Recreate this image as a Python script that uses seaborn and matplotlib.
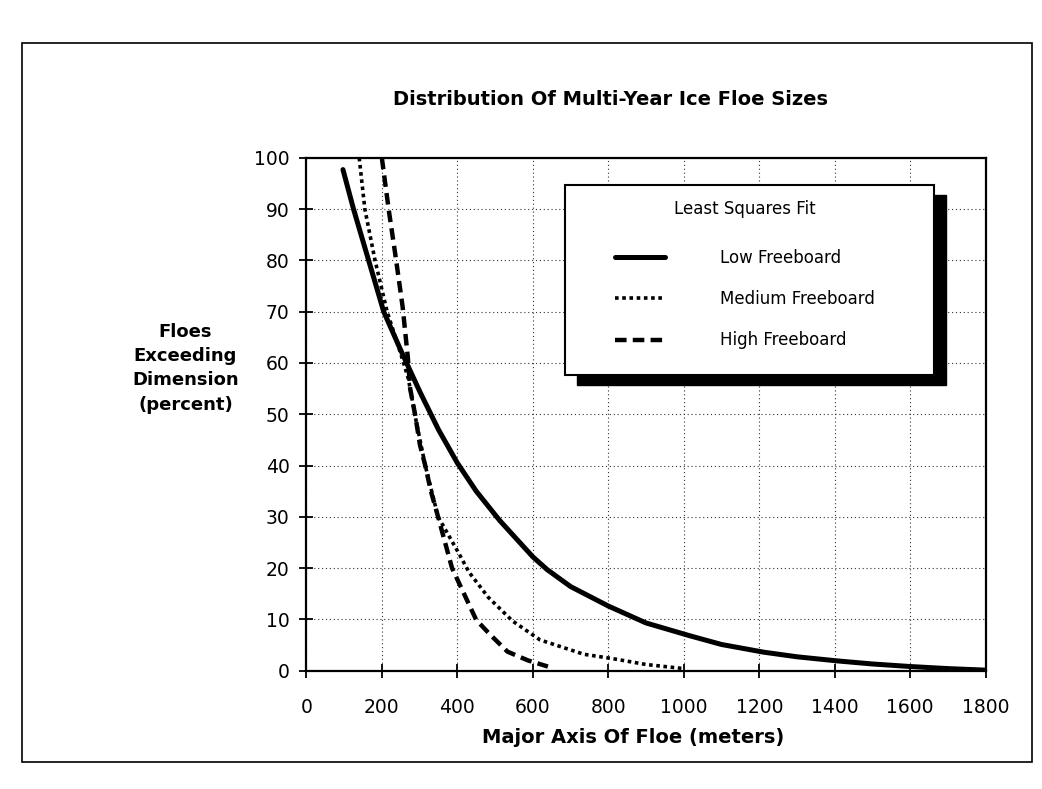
import matplotlib
matplotlib.use("Agg")
import matplotlib.pyplot as plt
import seaborn as sns
from matplotlib.patches import Rectangle

# Least-squares fits: percent of multi-year floes whose major axis exceeds a length
low_x = [97, 125, 165, 205, 250, 300, 350, 400, 450, 512, 600, 638, 700, 800,
         900, 1016, 1100, 1212, 1300, 1407, 1500, 1601, 1700, 1800]
low_pct = [97.7, 90, 80, 70, 62.5, 54.5, 47, 40.5, 35, 29.3, 22.2, 19.7, 16.4, 12.6,
           9.3, 6.8, 5.1, 3.6, 2.7, 1.9, 1.3, 0.8, 0.4, 0.1]

medium_x = [140, 155, 182, 214, 245, 270, 290, 315, 349, 403, 431, 482, 546,
            619, 735, 815, 900, 1000]
medium_pct = [100, 90, 80, 70, 63, 57, 49, 40, 30, 23, 19.2, 14.3, 9.7,
              6.0, 3.2, 2.3, 1.2, 0.4]

high_x = [200, 218, 236, 255, 269, 275, 288, 301, 315, 330, 349, 386, 450,
          486, 533, 587, 640]
high_pct = [100, 90, 81, 71, 61, 55, 50, 44, 40, 35, 30, 20, 9.9,
            7.1, 3.7, 2.0, 0.8]

series_names = ["Low Freeboard", "Medium Freeboard", "High Freeboard"]
x_ticks = list(range(0, 1801, 200))
y_ticks = list(range(0, 101, 10))

title = "Distribution Of Multi-Year Ice Floe Sizes"
x_title = "Major Axis Of Floe (meters)"
y_title = "Floes\nExceeding\nDimension\n(percent)"
legend_title = "Least Squares Fit"

sns.set_theme(style="white")
plt.rcParams["font.family"] = ["DejaVu Sans"]
plt.rcParams.update({"text.color": "black", "axes.labelcolor": "black",
                     "xtick.color": "black", "ytick.color": "black"})

fig = plt.figure(figsize=(10.42, 7.89), dpi=100)
ax = fig.add_axes([0.294, 0.150, 0.652, 0.650])

line_styles = [
    dict(linewidth=3.6, linestyle="-"),
    dict(linewidth=2.6, linestyle=(0, (1.0, 1.0))),
    dict(linewidth=3.2, linestyle=(0, (2.6, 1.4))),
]
for name, xs, ys, st in zip(series_names,
                            [low_x, medium_x, high_x],
                            [low_pct, medium_pct, high_pct],
                            line_styles):
    sns.lineplot(x=xs, y=ys, ax=ax, color="black", label=name,
                 solid_joinstyle="round", **st)

ax.set_xlim(0, 1800)
ax.set_ylim(0, 100)
ax.set_xticks(x_ticks)
ax.set_yticks(y_ticks)
ax.set_axisbelow(True)
ax.grid(True, color="#333333", linestyle=(0, (1, 2.5)), linewidth=0.8)
for sp in ax.spines.values():
    sp.set_visible(True)
    sp.set_color("black")
    sp.set_linewidth(1.6)

ax.tick_params(axis="both", which="major", direction="inout", length=10,
               width=1.3, colors="black", labelsize=13.5,
               bottom=True, left=True, top=False, right=False)
ax.tick_params(axis="x", pad=15)
ax.tick_params(axis="y", pad=7)

ax.set_xlabel(x_title, fontsize=14, fontweight="bold", color="black")
ax.xaxis.set_label_coords(0.481, -0.131)
ax.xaxis.label.set_va("center")
ax.set_ylabel(y_title, fontsize=13, fontweight="bold", color="black",
              rotation=0, linespacing=1.45, ha="center", va="center")
ax.yaxis.set_label_coords(-0.178, 0.59)

ax.text(0.447, 1.113, title, transform=ax.transAxes, ha="center", va="center",
        fontsize=14, fontweight="bold", color="black")

# Legend panel with a solid drop shadow
bx0, bx1, by0, by1 = 0.381, 0.924, 0.577, 0.947
ax.add_patch(Rectangle((bx0 + 0.018, by0 - 0.020), bx1 - bx0, by1 - by0,
                       transform=ax.transAxes, facecolor="black",
                       edgecolor="black", zorder=5, clip_on=False))
ax.add_patch(Rectangle((bx0, by0), bx1 - bx0, by1 - by0,
                       transform=ax.transAxes, facecolor="white",
                       edgecolor="black", linewidth=1.5, zorder=6,
                       clip_on=False))
handles, labels = ax.get_legend_handles_labels()
leg = ax.legend(handles, labels, title=legend_title, loc="center",
                bbox_to_anchor=(0.646, 0.772), frameon=False, fontsize=12,
                title_fontsize=12, handlelength=3.0, handletextpad=3.3,
                labelspacing=1.4, labelcolor="black")
leg.get_title().set_color("black")
leg.set_zorder(7)
leg._legend_box.sep = 22

# Outer border around the whole page
fig.add_artist(Rectangle((22 / 1042, 1 - 762 / 789), (1032 - 22) / 1042,
                         (762 - 43) / 789, transform=fig.transFigure,
                         fill=False, edgecolor="black", linewidth=1.2))

fig.savefig("out.png", dpi=100, facecolor="white")
